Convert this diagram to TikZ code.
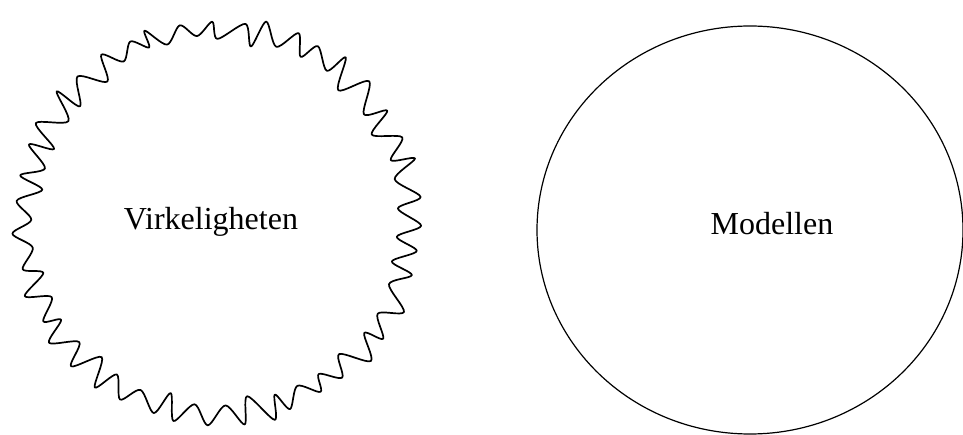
\documentclass[tikz,border=0pt]{standalone}
\usepackage{fontspec}
\setmainfont{Liberation Serif}
\usetikzlibrary{shapes.geometric}
\begin{document}
\begin{tikzpicture}[x=1pt,y=-1pt,
  wavy/.style={line width=1.7pt, line join=round},
  ring/.style={draw, ellipse, line width=1.2pt, inner sep=0pt},
  lbl/.style={font=\fontsize{32}{37}\selectfont, anchor=base, inner sep=0pt}]
\useasboundingbox (0,0) rectangle (963,435);
\pgfmathsetseed{11}
\gdef\pts{}
\foreach \i in {0,...,85}{
  \pgfmathsetmacro\ang{\i*4.186 + 2*rand}
  \pgfmathsetmacro\sgn{1-2*mod(\i,2)}
  \pgfmathsetmacro\rr{193 + 11*\sgn + 5*rand}
  \pgfmathsetmacro\px{217+\rr*cos(\ang)}
  \pgfmathsetmacro\py{221+\rr*sin(\ang)}
  \xdef\pts{\pts (\px,\py)}
}
\draw[wavy] plot[smooth cycle, tension=0.5] coordinates {\pts};
\node[lbl] (virk) at (211,230) {Virkeligheten};
\node[ring, minimum width=426pt, minimum height=408pt] (modell) at (750,230) {};
\node[lbl] (modtext) at (772,235) {Modellen};
\end{tikzpicture}
\end{document}
